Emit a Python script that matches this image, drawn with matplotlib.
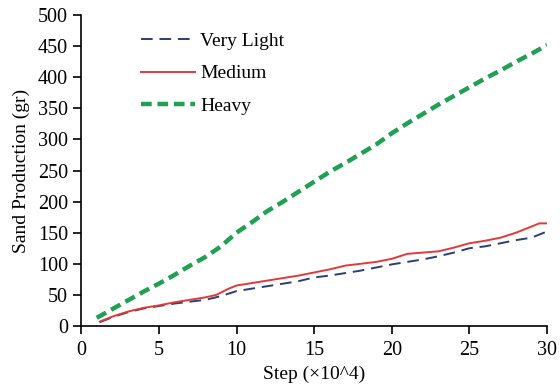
import matplotlib.pyplot as plt

# Step (x10^4) and sand production (gr)
steps_heavy = [1, 2, 3, 4, 5, 6, 7, 8, 9, 10, 11, 12, 13, 14, 15, 16, 17, 18, 19, 20,
               21, 22, 23, 24, 25, 26, 27, 28, 29, 30]
heavy = [13, 27, 41, 55, 68, 82, 97, 111, 128, 150, 167, 185, 200, 216, 232, 248, 262, 277,
         292, 310, 326, 341, 356, 370, 384, 398, 411, 425, 438, 452]

steps_medium = [1.2, 2, 3, 4, 5, 6, 7, 8, 8.7, 9.5, 10, 11, 12, 13, 14, 15, 16, 17, 18, 19,
                20, 21, 22, 23, 24, 25, 26, 27, 28, 29, 29.5, 30]
medium = [7, 15, 23, 29, 33, 38, 42, 46, 50, 60, 65, 69, 73, 77, 81, 86, 91, 97, 100, 103,
          108, 116, 118, 120, 126, 133, 137, 142, 150, 160, 165, 165]

steps_light = [1.2, 2, 3, 4, 5, 6, 7, 8, 9, 10, 11, 12, 13, 14, 15, 16, 17, 18, 19, 20,
               21, 22, 23, 24, 25, 26, 27, 28, 29, 30]
very_light = [6, 14, 22, 28, 32, 36, 39, 42, 48, 56, 60, 64, 68, 72, 78, 81, 85, 89, 94, 99,
              103, 107, 112, 118, 125, 128, 133, 138, 142, 152]

plt.rcParams['font.family'] = ['Liberation Serif', 'DejaVu Serif']

fig = plt.figure(figsize=(5.6, 3.88), dpi=100)
ax = fig.add_axes([0.145, 0.16, 0.832, 0.801])

ax.plot(steps_light, very_light, color='#2a3f73', lw=1.4, dashes=(6, 3.5), label='Very Light')
ax.plot(steps_medium, medium, color='#e03a3a', lw=1.4, label='Medium')
ax.plot(steps_heavy, heavy, color='#1fa052', lw=3.2, dashes=(2.4, 1.3), label='Heavy')

ax.set_xlim(0, 30)
ax.set_ylim(0, 500)
ax.set_xticks(range(0, 31, 5))
ax.set_yticks(range(0, 501, 50))
ax.spines['top'].set_visible(False)
ax.spines['right'].set_visible(False)
ax.spines['left'].set_linewidth(1.2)
ax.spines['bottom'].set_linewidth(1.2)
ax.tick_params(direction='out', length=6, width=1.2, labelsize=14.5)
ax.tick_params(axis='x', pad=5)
ax.set_xlabel('Step (×10^4)', fontsize=14, labelpad=4)
ax.set_ylabel('Sand Production (gr)', fontsize=14, labelpad=6)

ax.legend(loc='upper left', bbox_to_anchor=(0.09, 1.0), frameon=False, fontsize=14,
          handlelength=2.8, labelspacing=0.75, handletextpad=0.25)

fig.savefig('out.png')
